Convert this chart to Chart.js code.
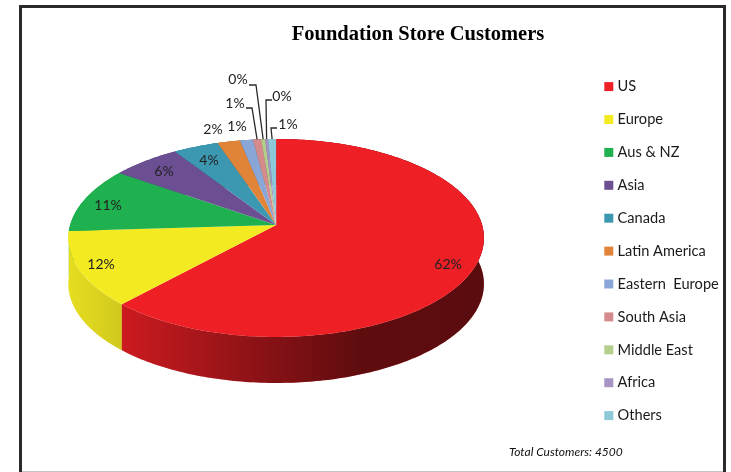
<!DOCTYPE html>
<html>
<head>
<meta charset="utf-8">
<style>
  html, body { margin: 0; padding: 0; background: #fff; overflow: hidden; }
  #frame { position: absolute; left: 19px; top: 5px; width: 701px; height: 470px; border: 3px solid #2b2a2b; }
  #baseline { position: absolute; left: 22px; top: 471px; width: 701px; height: 1px; background: #c4c4c4; }
  canvas { position: absolute; left: 0; top: 0; }
</style>
<script src="https://cdn.jsdelivr.net/npm/chart.js@4"></script>
</head>
<body>
<div id="frame"></div>
<div id="baseline"></div>
<canvas id="pieChart" width="731" height="472"></canvas>
<script>
"use strict";

var regions = ['US', 'Europe', 'Aus & NZ', 'Asia', 'Canada', 'Latin America', 'Eastern  Europe', 'South Asia', 'Middle East', 'Africa', 'Others'];
var shares = [61.83, 12.2, 10.7, 6.1, 4.0, 2.0, 1.15, 0.71, 0.35, 0.26, 0.7];
var sliceColors = ['#ee1f25', '#f3ea22', '#1fb14f', '#6c4f93', '#3c98b0', '#e0843a', '#8aa6d6', '#d58a8c', '#b3cf8b', '#a594c4', '#8cc8d8'];
var totalCustomers = 4500;

// where the percent labels sit, same order as regions
var labelSpots = [[448, 264], [101, 264], [108, 205], [164, 171], [209, 160], [213, 129], [237, 126], [235, 103], [238, 79], [282, 96], [288, 124]];
// leader lines for the thin slices: elbow points, the last point is the rim of the slice
var leaders = {
    7: [[246, 108], [252, 108]],
    8: [[249, 85], [256, 85]],
    9: [[272, 100], [266, 100]],
    10: [[277, 128], [271, 128]]
};

var apexY = 225, depth = 46, squash = 0.4723, tilt = 0.131;

// circle -> perspective view of the tilted pie
function project(arc, angle) {
    var u = Math.cos(angle), v = Math.sin(angle);
    var w = 1 - tilt * v;
    var r = arc.outerRadius;
    return { x: arc.x + r * u / w, y: apexY + r * squash * v / w };
}

function rimPoints(arc) {
    var pts = [];
    var steps = Math.max(2, Math.ceil((arc.endAngle - arc.startAngle) * 60));
    for (var i = 0; i <= steps; i++) {
        pts.push(project(arc, arc.startAngle + (arc.endAngle - arc.startAngle) * i / steps));
    }
    return pts;
}

var pie3d = {
    id: 'pie3d',
    afterLayout: function (chart) {
        // title is centred over the right part of the frame, legend sits away from the pie
        chart.titleBlock.left = 105;
        chart.titleBlock.right = 731;
        chart.legend.left = 589;
        chart.legend.right = 731;
        chart.legend.top = 61;
        chart.legend.bottom = 472;
    },
    beforeDatasetDraw: function (chart, args) {
        var ctx = chart.ctx;
        var arcs = args.meta.data;
        var shade = ctx.createLinearGradient(67, 0, 483, 0);
        shade.addColorStop(0, 'rgba(0,0,0,0.05)');
        shade.addColorStop(0.13, 'rgba(0,0,0,0.14)');
        shade.addColorStop(0.44, 'rgba(0,0,0,0.4)');
        shade.addColorStop(0.7, 'rgba(0,0,0,0.6)');
        shade.addColorStop(1, 'rgba(0,0,0,0.62)');

        ctx.save();
        // side wall, back slices first so the front ones cover them
        for (var n = arcs.length - 1; n >= 0; n--) {
            var pts = rimPoints(arcs[n]);
            ctx.beginPath();
            pts.forEach(function (p) { ctx.lineTo(p.x, p.y); });
            pts.slice().reverse().forEach(function (p) { ctx.lineTo(p.x, p.y + depth); });
            ctx.closePath();
            ctx.fillStyle = sliceColors[n];
            ctx.fill();
            ctx.fillStyle = shade;
            ctx.fill();
        }
        // top face
        arcs.forEach(function (arc, i) {
            ctx.beginPath();
            ctx.moveTo(arc.x, apexY);
            rimPoints(arc).forEach(function (p) { ctx.lineTo(p.x, p.y); });
            ctx.closePath();
            ctx.fillStyle = sliceColors[i];
            ctx.fill();
        });
        ctx.restore();
        return false;
    },
    afterDatasetsDraw: function (chart) {
        var ctx = chart.ctx;
        var arcs = chart.getDatasetMeta(0).data;
        var total = shares.reduce(function (a, b) { return a + b; }, 0);

        ctx.save();
        ctx.strokeStyle = '#2b2a2b';
        ctx.lineWidth = 1.3;
        Object.keys(leaders).forEach(function (key) {
            var arc = arcs[key];
            var end = project(arc, (arc.startAngle + arc.endAngle) / 2);
            ctx.beginPath();
            leaders[key].forEach(function (p) { ctx.lineTo(p[0], p[1]); });
            ctx.lineTo(end.x, end.y);
            ctx.stroke();
        });

        ctx.font = '14px Lato';
        ctx.fillStyle = '#222';
        ctx.textAlign = 'center';
        ctx.textBaseline = 'middle';
        shares.forEach(function (s, i) {
            ctx.fillText(Math.round(s / total * 100) + '%', labelSpots[i][0], labelSpots[i][1]);
        });

        ctx.font = 'italic 12px Lato';
        ctx.fillStyle = '#111';
        ctx.textAlign = 'left';
        ctx.fillText('Total Customers: ' + totalCustomers, 509, 452);
        ctx.restore();
    }
};

var ctx1 = document.getElementById('pieChart').getContext('2d');
var pieChart = new Chart(ctx1, {
    type: 'pie',
    data: {
        labels: regions,
        datasets: [{
            data: shares,
            backgroundColor: sliceColors,
            borderColor: sliceColors,
            borderWidth: 6,
            radius: 206
        }]
    },
    options: {
        responsive: false,
        animation: false,
        rotation: 0,
        layout: { padding: { left: 30, right: 69 } },
        plugins: {
            title: {
                display: true,
                text: 'Foundation Store Customers',
                color: '#000',
                font: { family: 'Liberation Serif', size: 20.5, weight: 'bold' },
                padding: { top: 22, bottom: 4 }
            },
            legend: {
                position: 'right',
                align: 'start',
                labels: {
                    color: '#1a1a1a',
                    font: { family: 'Lato', size: 14.6 },
                    boxWidth: 3,
                    boxHeight: 3,
                    padding: 18.3
                }
            },
            tooltip: { enabled: false }
        }
    },
    plugins: [pie3d]
});
</script>
</body>
</html>
